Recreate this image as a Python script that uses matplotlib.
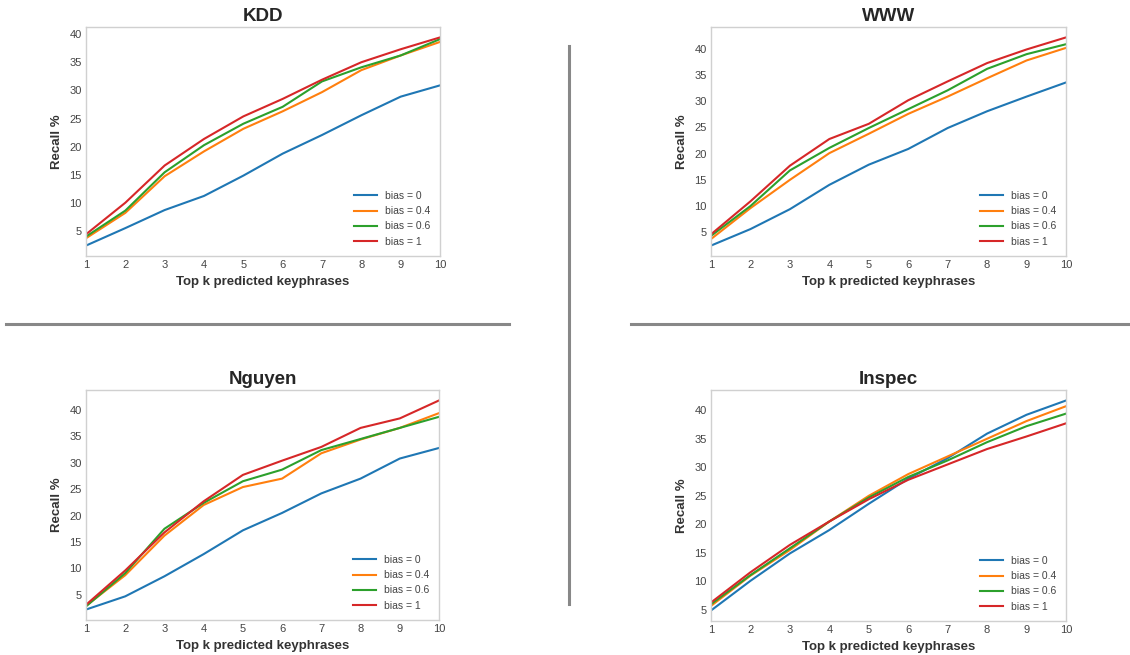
import numpy as np
import matplotlib
matplotlib.use('Agg')
import matplotlib.pyplot as plt
from matplotlib.lines import Line2D

plt.rcParams['font.family'] = ['Liberation Sans', 'DejaVu Sans']

# top k predicted keyphrases
K_VALS = list(range(1, 11))
BIAS_LABELS = ['bias = 0', 'bias = 0.4', 'bias = 0.6', 'bias = 1']
COLORS = ['#1f77b4', '#ff7f0e', '#2ca02c', '#d62728']

# recall % per dataset, one list per bias
KDD = [
    [2.5, 5.6, 8.8, 11.3, 14.9, 18.8, 22.1, 25.6, 28.9, 30.9],
    [3.8, 8.3, 14.8, 19.2, 23.2, 26.3, 29.7, 33.6, 36.2, 38.6],
    [4.1, 8.7, 15.5, 20.3, 24.1, 27.1, 31.6, 34.1, 36.2, 39.1],
    [4.5, 10.1, 16.7, 21.4, 25.4, 28.5, 31.9, 35.0, 37.3, 39.4],
]
WWW = [
    [2.45, 5.6, 9.4, 14.05, 17.9, 20.9, 24.9, 28.1, 30.9, 33.6],
    [3.7, 9.6, 15.0, 20.1, 23.8, 27.6, 30.9, 34.4, 37.8, 40.2],
    [4.3, 10.0, 16.8, 21.1, 24.9, 28.5, 32.1, 36.2, 39.0, 40.9],
    [4.6, 10.9, 17.7, 22.8, 25.7, 30.2, 33.8, 37.3, 39.9, 42.2],
]
NGUYEN = [
    [2.2, 4.7, 8.5, 12.7, 17.2, 20.5, 24.2, 27.0, 30.8, 32.8],
    [2.9, 8.7, 16.2, 22.0, 25.4, 27.0, 31.8, 34.4, 36.6, 39.4],
    [2.8, 9.1, 17.5, 22.4, 26.5, 28.7, 32.4, 34.5, 36.6, 38.7],
    [3.1, 9.6, 16.8, 22.7, 27.7, 30.4, 33.0, 36.6, 38.4, 41.8],
]
INSPEC = [
    [4.9, 10.1, 14.9, 19.0, 23.6, 28.0, 31.6, 35.9, 39.2, 41.7],
    [5.7, 11.0, 15.5, 20.5, 25.0, 28.8, 31.9, 35.0, 38.1, 40.7],
    [6.0, 11.1, 15.8, 20.5, 24.7, 28.3, 31.2, 34.4, 37.2, 39.4],
    [6.3, 11.6, 16.4, 20.5, 24.4, 27.8, 30.5, 33.2, 35.4, 37.7],
]

W, H = 1130, 655
FIG = plt.figure(figsize=(W / 100, H / 100), dpi=100)
FIG.patch.set_facecolor('white')


def px_rect(left, top, right, bottom):
    return [left / W, 1 - bottom / H, (right - left) / W, (bottom - top) / H]


PANELS = [
    ('KDD', KDD, px_rect(86, 27, 440, 256)),
    ('WWW', WWW, px_rect(711, 27, 1066, 256)),
    ('Nguyen', NGUYEN, px_rect(86, 390, 439, 620)),
    ('Inspec', INSPEC, px_rect(711, 390, 1066, 621)),
]

for title, series, rect in PANELS:
    ax = FIG.add_axes(rect)
    for vals, lab, col in zip(series, BIAS_LABELS, COLORS):
        ax.plot(K_VALS, vals, color=col, lw=1.5, label=lab)
    ax.set_xlim(1, 10)
    ax.set_xticks(K_VALS)
    ax.set_yticks([5, 10, 15, 20, 25, 30, 35, 40])
    ax.margins(y=0.05)
    ax.tick_params(length=0, labelsize=8, labelcolor='#444444', pad=3)
    for sp in ax.spines.values():
        sp.set_color('#d0d0d0')
        sp.set_linewidth(1.0)
    ax.set_title(title, fontsize=13.5, fontweight='bold', color='#262626', pad=4.5)
    ax.set_xlabel('Top k predicted keyphrases', fontsize=9.5,
                  fontweight='bold', color='#333333', labelpad=4)
    ax.set_ylabel('Recall %', fontsize=9.5, fontweight='bold',
                  color='#333333', labelpad=5)
    ax.legend(loc='lower right', frameon=False, fontsize=7.5,
              labelcolor='#444444', handlelength=2.25)

# separator lines between panels
SEP_COLOR = '#888888'
FIG.add_artist(Line2D([569 / W, 569 / W], [1 - 46 / H, 1 - 604 / H],
                      color=SEP_COLOR, lw=2.2))
FIG.add_artist(Line2D([6 / W, 509 / W], [1 - 324 / H, 1 - 324 / H],
                      color=SEP_COLOR, lw=2.2))
FIG.add_artist(Line2D([631 / W, 1130 / W], [1 - 324 / H, 1 - 324 / H],
                      color=SEP_COLOR, lw=2.2))

FIG.savefig('out.png', dpi=100, facecolor='white')
